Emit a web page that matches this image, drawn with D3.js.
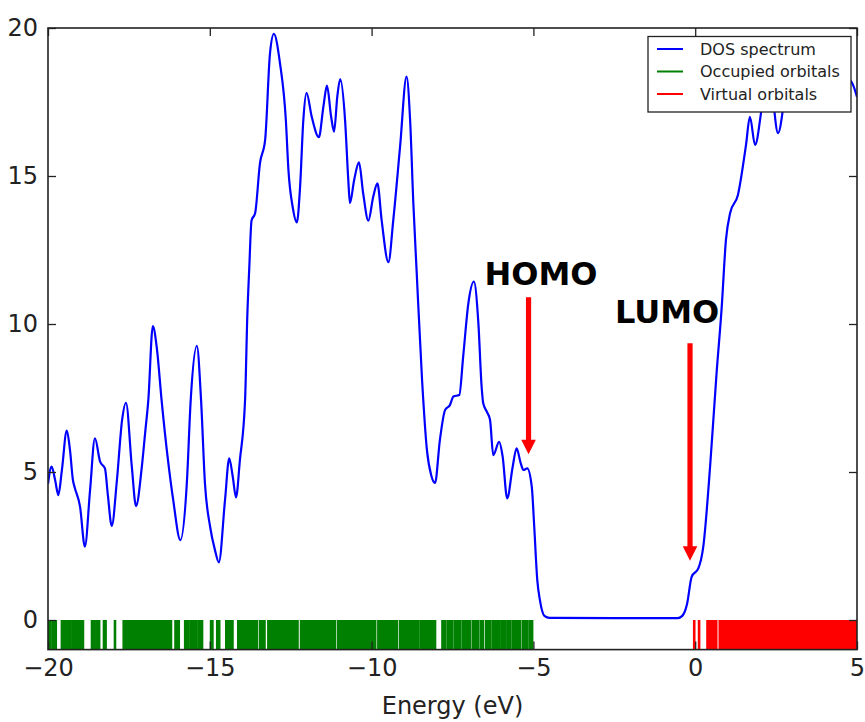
<!DOCTYPE html>
<html>
<head>
<meta charset="utf-8">
<script src="https://cdn.jsdelivr.net/npm/d3@7/dist/d3.min.js"></script>
<style>
  html, body { margin: 0; padding: 0; background: #fff; }
  svg { display: block; font-family: "DejaVu Sans", sans-serif; }
</style>
</head>
<body>
<svg id="chart" width="865" height="722"></svg>
<script>
// Density of states sampled along the energy axis (eV)
const dosEnergy = [
  -20.00, -19.89, -19.78, -19.68, -19.57, -19.42, -19.32, -19.23, -19.17, -19.01,
  -18.86, -18.70, -18.55, -18.39, -18.24, -18.15, -18.03, -17.87, -17.71, -17.59,
  -17.41, -17.28, -17.10, -17.00, -16.90, -16.76, -16.63, -16.49, -16.28, -16.13,
  -15.91, -15.71, -15.59, -15.40, -15.27, -15.15, -14.99, -14.84, -14.72, -14.53,
  -14.40, -14.29, -14.19, -14.07, -13.91, -13.84, -13.78, -13.71, -13.60, -13.45,
  -13.29, -13.14, -13.02, -12.83, -12.65, -12.57, -12.44, -12.31, -12.21, -12.11,
  -12.01, -11.85, -11.63, -11.49, -11.38, -11.25, -11.16, -11.06, -10.97, -10.82,
  -10.72, -10.67, -10.54, -10.39, -10.26, -10.10, -9.95, -9.82, -9.69, -9.48,
  -9.33, -9.12, -8.92, -8.81, -8.71, -8.61, -8.44, -8.29, -8.16, -8.04,
  -7.89, -7.73, -7.58, -7.47, -7.29, -7.17, -7.01, -6.84, -6.70, -6.60,
  -6.55, -6.44, -6.34, -6.24, -6.06, -5.95, -5.81, -5.64, -5.52, -5.39,
  -5.31, -5.19, -5.05, -4.98, -4.88, -4.80, -4.66, -4.50, -2.50, -0.55,
  -0.40, -0.25, -0.11, 0.10, 0.25, 0.46, 0.66, 0.82, 0.95, 1.08,
  1.32, 1.57, 1.69, 1.85, 2.10, 2.30, 2.56, 2.80, 3.05, 3.45,
  3.90, 4.40, 4.75, 4.88, 5.00
];
const dosValue = [
  4.60, 5.18, 4.73, 4.22, 5.07, 6.40, 5.74, 4.73, 4.46, 3.83,
  2.48, 4.39, 6.14, 5.35, 5.12, 4.22, 3.18, 4.73, 6.76, 7.34,
  5.18, 3.85, 5.18, 6.30, 7.43, 9.93, 9.12, 7.43, 5.29, 4.05,
  2.70, 4.62, 7.43, 9.26, 7.43, 4.62, 3.15, 2.36, 1.95, 4.05,
  5.46, 4.84, 4.14, 5.40, 7.43, 10.30, 11.90, 13.50, 13.74, 15.43,
  16.22, 19.14, 19.80, 18.80, 16.89, 15.20, 13.96, 13.43, 14.64, 16.89,
  17.81, 17.00, 16.31, 17.34, 18.05, 17.00, 16.50, 17.68, 18.27, 16.89,
  14.86, 14.08, 14.86, 15.46, 14.41, 13.49, 14.30, 14.75, 13.51, 12.09,
  13.51, 15.99, 18.36, 16.89, 14.08, 11.82, 8.10, 5.74, 4.90, 4.63,
  6.08, 7.09, 7.26, 7.55, 7.60, 8.90, 10.70, 11.43, 10.02, 7.88,
  7.32, 7.04, 6.76, 5.57, 6.02, 5.52, 4.11, 5.18, 5.80, 5.29,
  5.07, 5.12, 4.50, 3.27, 1.35, 0.68, 0.14, 0.07, 0.06, 0.06,
  0.14, 0.55, 1.46, 1.75, 2.48, 5.18, 8.33, 10.58, 12.84, 13.75,
  14.36, 16.05, 17.00, 16.05, 17.57, 18.30, 16.45, 17.90, 19.20, 18.40,
  19.60, 18.70, 18.30, 18.07, 17.67
];

// Orbital eigenvalues (eV)
const occupiedEnergies = [
  -19.99, -19.95, -19.92, -19.84, -19.80, -19.76,
  -19.57, -19.53, -19.49, -19.45, -19.38, -19.34, -19.30, -19.22, -19.18, -19.14, -19.10,
  -19.04, -19.00, -18.96, -18.92,
  -18.64, -18.60, -18.56, -18.50, -18.46, -18.42,
  -18.27, -18.22, -17.93,
  -17.66, -17.62, -17.58, -17.52, -17.48, -17.44, -17.37, -17.33, -17.29, -17.22, -17.18,
  -17.14, -17.10, -17.04, -17.00, -16.96,
  -16.92, -16.88, -16.84, -16.80, -16.76, -16.72, -16.68, -16.64, -16.60, -16.56, -16.52,
  -16.48, -16.44, -16.40, -16.36, -16.32, -16.28, -16.24, -16.20,
  -16.06, -16.01, -15.96,
  -15.76, -15.72, -15.68, -15.60, -15.56, -15.52, -15.45, -15.41, -15.34, -15.30, -15.24,
  -14.96, -14.92, -14.77, -14.71,
  -14.49, -14.45, -14.40, -14.35, -14.30,
  -14.12, -14.07, -14.02, -13.97, -13.92, -13.88,
  -13.84, -13.79, -13.75, -13.70, -13.65, -13.60, -13.55,
  -13.45, -13.41, -13.36, -13.31,
  -13.19, -13.14, -13.10, -13.05, -13.00, -12.95, -12.91, -12.86, -12.81, -12.76, -12.72,
  -12.67, -12.62, -12.57, -12.53, -12.48, -12.43, -12.38, -12.33, -12.29,
  -12.18, -12.13, -12.09, -12.04, -11.99, -11.94, -11.90, -11.85, -11.80, -11.75, -11.71,
  -11.66, -11.61, -11.56, -11.52, -11.47, -11.42, -11.37, -11.33, -11.28, -11.23, -11.18, -11.13,
  -11.03, -10.98, -10.94, -10.89, -10.84, -10.79, -10.75, -10.70, -10.65, -10.60, -10.56,
  -10.51, -10.46, -10.41, -10.37, -10.32, -10.27, -10.22, -10.18, -10.13, -10.08, -10.03,
  -9.99, -9.94, -9.89,
  -9.79, -9.74, -9.69, -9.65, -9.60, -9.55, -9.50, -9.46, -9.41, -9.36, -9.31, -9.27, -9.22,
  -9.12, -9.07, -9.03, -8.98, -8.93, -8.88, -8.84, -8.79, -8.74, -8.69, -8.65, -8.60, -8.55,
  -8.47, -8.42, -8.35, -8.29, -8.22, -8.16, -8.10, -8.04,
  -7.81, -7.76, -7.72, -7.64, -7.59, -7.55, -7.51, -7.43, -7.38, -7.34, -7.30, -7.26,
  -7.18, -7.13, -7.09, -7.05, -7.00, -6.96, -6.87, -6.82, -6.78, -6.74, -6.70,
  -6.61, -6.56, -6.46, -6.41, -6.37, -6.33, -6.25, -6.20, -6.16, -6.12, -6.07,
  -5.99, -5.94, -5.90, -5.86, -5.79, -5.75, -5.71, -5.63, -5.58, -5.54, -5.50, -5.45, -5.41,
  -5.32, -5.28, -5.24, -5.20, -5.12, -5.08, -5.04
];
const virtualEnergies = [
  -0.03, 0.12,
  0.38, 0.42, 0.47, 0.52, 0.56, 0.61, 0.65,
  0.76, 0.80, 0.85, 0.90, 0.94, 0.99, 1.04, 1.08, 1.13, 1.18, 1.22, 1.27, 1.32, 1.36,
  1.41, 1.46, 1.50, 1.55, 1.60, 1.64, 1.69, 1.74, 1.78, 1.83, 1.88, 1.92, 1.97, 2.02,
  2.06, 2.11, 2.16, 2.20, 2.25, 2.30, 2.34, 2.39, 2.44, 2.48, 2.53, 2.58, 2.62, 2.67,
  2.72, 2.76, 2.81, 2.86, 2.90, 2.95, 3.00, 3.04, 3.09, 3.14, 3.18, 3.23, 3.28, 3.32,
  3.37, 3.42, 3.46, 3.51, 3.56, 3.60, 3.65, 3.70, 3.74, 3.79, 3.84, 3.88, 3.93, 3.98,
  4.02, 4.07, 4.12, 4.16, 4.21, 4.26, 4.30, 4.35, 4.40, 4.44, 4.49, 4.54, 4.58, 4.63,
  4.68, 4.72, 4.77, 4.82, 4.86, 4.91, 4.96
];

// Axis ticks
const xTicks = [-20, -15, -10, -5, 0, 5];
const yTicks = [0, 5, 10, 15, 20];

// Frontier orbital markers: energy, arrow start and arrow tip (DOS units)
const frontierNames = ["HOMO", "LUMO"];
const frontierEnergy = [-5.15, -0.16];
const frontierArrowFrom = [10.9, 9.35];
const frontierArrowTo = [5.6, 2.0];

// Legend entries
const legendLabels = ["DOS spectrum", "Occupied orbitals", "Virtual orbitals"];
const legendColors = ["#0000ff", "#008000", "#ff0000"];

// ---------- drawing ----------
const W = 865, H = 722;
const margin = { left: 48, right: 8, top: 28, bottom: 72.4 };
const svg = d3.select("#chart");

const x = d3.scaleLinear().domain([-20, 5]).range([margin.left, W - margin.right]);
const y = d3.scaleLinear().domain([-1, 20]).range([H - margin.bottom, margin.top]);

svg.append("defs").append("clipPath").attr("id", "plot-clip")
  .append("rect")
  .attr("x", x(-20)).attr("y", y(20))
  .attr("width", x(5) - x(-20)).attr("height", y(-1) - y(20));

const plot = svg.append("g").attr("clip-path", "url(#plot-clip)");

// orbital sticks between y = -1 and y = 0
function drawSticks(energies, color) {
  plot.append("g").selectAll("line").data(energies).join("line")
    .attr("x1", d => x(d)).attr("x2", d => x(d))
    .attr("y1", y(-1)).attr("y2", y(0))
    .attr("stroke", color).attr("stroke-width", 2.6);
}
drawSticks(occupiedEnergies, legendColors[1]);
drawSticks(virtualEnergies, legendColors[2]);

// DOS curve
const dosPoints = dosEnergy.map((e, i) => [e, dosValue[i]]);
const line = d3.line().x(d => x(d[0])).y(d => y(d[1])).curve(d3.curveMonotoneX);
plot.append("path").datum(dosPoints)
  .attr("d", line)
  .attr("fill", "none")
  .attr("stroke", legendColors[0])
  .attr("stroke-width", 2.2)
  .attr("stroke-linejoin", "round");

// axes with inward ticks on all four sides
const tickLen = 8;
const fmt = d => d3.format("")(d).replace("-", "\u2212");
const axisColor = "#222";

const gx = svg.append("g").attr("transform", `translate(0,${y(-1)})`)
  .call(d3.axisBottom(x).tickValues(xTicks).tickSize(-tickLen).tickPadding(9).tickFormat(fmt));
const gy = svg.append("g").attr("transform", `translate(${x(-20)},0)`)
  .call(d3.axisLeft(y).tickValues(yTicks).tickSize(-tickLen).tickPadding(10).tickFormat(fmt));
const gxTop = svg.append("g").attr("transform", `translate(0,${y(20)})`)
  .call(d3.axisTop(x).tickValues(xTicks).tickSize(-tickLen).tickFormat(""));
const gyRight = svg.append("g").attr("transform", `translate(${x(5)},0)`)
  .call(d3.axisRight(y).tickValues(yTicks).tickSize(-tickLen).tickFormat(""));

[gx, gy, gxTop, gyRight].forEach(g => {
  g.select(".domain").remove();
  g.selectAll(".tick line").attr("stroke", axisColor).attr("stroke-width", 1.3);
  g.selectAll(".tick text")
    .attr("fill", axisColor)
    .style("font-family", "'DejaVu Sans', sans-serif")
    .style("font-size", "24px");
});

// plot frame
svg.append("rect")
  .attr("x", x(-20)).attr("y", y(20))
  .attr("width", x(5) - x(-20)).attr("height", y(-1) - y(20))
  .attr("fill", "none").attr("stroke", axisColor).attr("stroke-width", 1.6);

// x-axis title
svg.append("text")
  .attr("x", (x(-20) + x(5)) / 2).attr("y", 714)
  .attr("text-anchor", "middle")
  .attr("fill", axisColor)
  .style("font-size", "24px")
  .text("Energy (eV)");

// legend
const lg = svg.append("g").attr("transform", "translate(648,36.5)");
lg.append("rect").attr("width", 203).attr("height", 75.5)
  .attr("fill", "#fff").attr("stroke", axisColor).attr("stroke-width", 1.3);
legendLabels.forEach((lab, i) => {
  const cy = 12.5 + i * 22.5;
  lg.append("line").attr("x1", 9).attr("x2", 35).attr("y1", cy).attr("y2", cy)
    .attr("stroke", legendColors[i]).attr("stroke-width", 2);
  lg.append("text").attr("x", 52).attr("y", cy + 5.8)
    .attr("fill", axisColor).style("font-size", "16px").text(lab);
});

// frontier orbital annotations
const labelOffset = [{ dx: -44, dy: -12 }, { dx: -75, dy: -20 }];
frontierNames.forEach((name, i) => {
  const ax = x(frontierEnergy[i]);
  const y0 = y(frontierArrowFrom[i]);
  const y1 = y(frontierArrowTo[i]);
  const shaft = 2.6, head = 7.3, headLen = 14.5;
  const path = d3.path();
  path.moveTo(ax - shaft, y0);
  path.lineTo(ax + shaft, y0);
  path.lineTo(ax + shaft, y1 - headLen);
  path.lineTo(ax + head, y1 - headLen);
  path.lineTo(ax, y1);
  path.lineTo(ax - head, y1 - headLen);
  path.lineTo(ax - shaft, y1 - headLen);
  path.closePath();
  svg.append("path").attr("d", path.toString()).attr("fill", "#ff0000");
  svg.append("text")
    .attr("x", ax + labelOffset[i].dx).attr("y", y0 + labelOffset[i].dy)
    .attr("fill", "#000")
    .style("font-size", "32px").style("font-weight", "bold")
    .text(name);
});
</script>
</body>
</html>
